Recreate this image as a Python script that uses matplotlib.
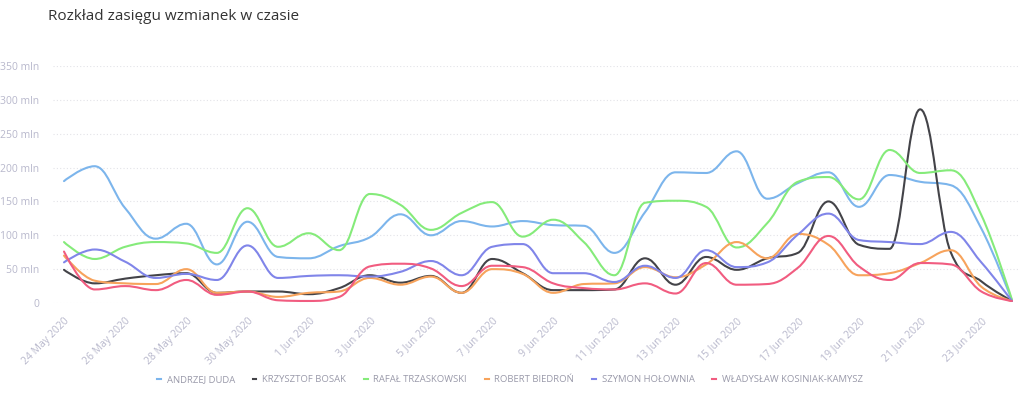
import numpy as np
import pandas as pd
import matplotlib
matplotlib.use("Agg")
import matplotlib.pyplot as plt
from matplotlib.path import Path
from matplotlib.patches import PathPatch
from matplotlib.lines import Line2D

plt.rcParams["font.family"] = ["Open Sans", "DejaVu Sans"]

# dzienne wartości zasięgu (mln), 24 maja - 24 czerwca 2020
dates = pd.date_range("2020-05-24", "2020-06-24", freq="D")

duda = [180, 202, 140, 95, 117, 57, 120, 68, 66, 84, 97, 131, 100, 121, 113, 121,
        115, 114, 74, 134, 193, 192, 224, 154, 177, 193, 142, 189, 179, 174, 110, 4]
bosak = [49, 29, 36, 41, 44, 15, 17, 17, 13, 22, 41, 30, 40, 15, 65, 44,
         19, 19, 20, 66, 27, 68, 49, 66, 74, 150, 86, 80, 286, 75, 32, 3]
trzaskowski = [90, 65, 83, 90, 88, 74, 140, 83, 103, 78, 161, 145, 108, 133, 149, 98,
               123, 90, 41, 148, 151, 142, 82, 118, 179, 186, 153, 226, 192, 196, 130, 5]
biedron = [70, 33, 29, 28, 50, 15, 17, 9, 15, 17, 37, 27, 39, 15, 50, 43,
           15, 28, 29, 53, 38, 57, 90, 66, 102, 86, 41, 44, 59, 78, 24, 3]
holownia = [60, 79, 61, 37, 43, 34, 85, 37, 40, 41, 39, 46, 62, 41, 83, 87,
            44, 44, 31, 55, 37, 78, 53, 60, 101, 132, 93, 90, 87, 105, 60, 3]
kosiniak = [76, 20, 25, 19, 34, 12, 17, 4, 3, 9, 54, 58, 51, 25, 55, 53,
            29, 22, 20, 29, 14, 59, 27, 28, 52, 99, 54, 34, 59, 57, 17, 3]

names = ["ANDRZEJ DUDA", "KRZYSZTOF BOSAK", "RAFAŁ TRZASKOWSKI", "ROBERT BIEDROŃ",
         "SZYMON HOŁOWNIA", "WŁADYSŁAW KOSINIAK-KAMYSZ"]
series = [duda, bosak, trzaskowski, biedron, holownia, kosiniak]
colors = ["#7cb5ec", "#434348", "#85eb7a", "#f7a35c", "#8085e9", "#f15c80"]


def spline_path(xs, ys, smoothing=1.5):
    # krzywa w stylu Highcharts "spline"
    n = len(xs)
    left = [(xs[0], ys[0])] * n
    right = [(xs[0], ys[0])] * n
    for i in range(n):
        x, y = xs[i], ys[i]
        if i == 0 or i == n - 1:
            left[i] = right[i] = (x, y)
            continue
        lx, ly = xs[i - 1], ys[i - 1]
        nx_, ny = xs[i + 1], ys[i + 1]
        d = smoothing + 1
        lcx = (smoothing * x + lx) / d
        lcy = (smoothing * y + ly) / d
        rcx = (smoothing * x + nx_) / d
        rcy = (smoothing * y + ny) / d
        if rcx != lcx:
            corr = (rcy - lcy) * (rcx - x) / (rcx - lcx) + y - rcy
            lcy += corr
            rcy += corr
            if lcy > ly and lcy > y:
                lcy = max(ly, y)
                rcy = 2 * y - lcy
            elif lcy < ly and lcy < y:
                lcy = min(ly, y)
                rcy = 2 * y - lcy
            if rcy > ny and rcy > y:
                rcy = max(ny, y)
                lcy = 2 * y - rcy
            elif rcy < ny and rcy < y:
                rcy = min(ny, y)
                lcy = 2 * y - rcy
        left[i] = (lcx, lcy)
        right[i] = (rcx, rcy)
    verts = [(xs[0], ys[0])]
    codes = [Path.MOVETO]
    for i in range(1, n):
        verts += [right[i - 1], left[i], (xs[i], ys[i])]
        codes += [Path.CURVE4] * 3
    return Path(verts, codes)


fig = plt.figure(figsize=(10.24, 3.99), dpi=100)
ax = fig.add_axes([53 / 1024, 96 / 399, 965 / 1024, 237 / 399])

x = np.arange(len(dates))
for vals, col in zip(series, colors):
    p = spline_path(list(x), vals)
    ax.add_patch(PathPatch(p, facecolor="none", edgecolor=col, lw=1.5,
                           clip_on=False, capstyle="round", joinstyle="round"))

ax.set_xlim(-0.36, 31.2)
ax.set_ylim(0, 350)
yt = np.arange(0, 351, 50)
ax.set_yticks(yt)
ax.set_yticklabels(["0"] + [f"{v} mln" for v in yt[1:]])
ax.grid(axis="y", color="#e3e3e8", lw=0.8, ls=(0, (1, 2)))
ax.set_axisbelow(True)
for s in ax.spines.values():
    s.set_visible(False)

xt = x[::2]
ax.set_xticks(xt)
ax.set_xticklabels([f"{dates[i].day} {dates[i].strftime('%b')} {dates[i].year}" for i in xt],
                   rotation=45, ha="right", va="top", rotation_mode="anchor")
ax.tick_params(axis="x", length=0, pad=9, labelsize=7.5, labelcolor="#b8b8cc")
ax.tick_params(axis="y", length=0, pad=10, labelsize=7.5, labelcolor="#b8b8cc")

fig.text(48 / 1024, 1 - 16 / 399, "Rozkład zasięgu wzmianek w czasie",
         fontsize=11, color="#333333", va="center", ha="left")

handles = [Line2D([], [], color=c, lw=1.5) for c in colors]
fig.legend(handles, names, loc="center", bbox_to_anchor=(0.498, 1 - 380 / 399),
           ncol=6, frameon=False, fontsize=6.8, labelcolor="#9a9aaa",
           handlelength=0.4, handletextpad=0.6, columnspacing=1.9)

fig.savefig("out.png", dpi=100)
